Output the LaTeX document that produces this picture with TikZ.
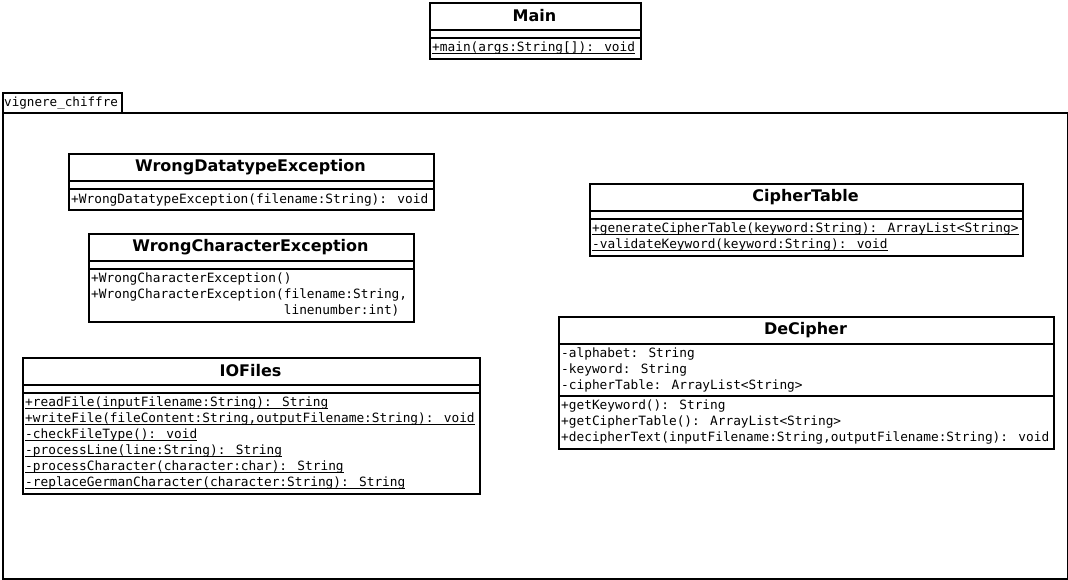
\documentclass[tikz,border=0pt]{standalone}
\usepackage{fontspec}
\newfontfamily\umlsans{DejaVu Sans}
\newfontfamily\umlmono{DejaVu Sans Mono}
\usepackage{tikz}
\usetikzlibrary{positioning}
% static members: rule just under the baseline
\newcommand{\umlstatic}[1]{\setbox0\hbox{#1}\rlap{\rule[-2.2pt]{\wd0}{0.9pt}}\box0}
\tikzset{
  classbox/.style={rectangle,draw,line width=2pt,anchor=north west,inner sep=0pt},
  pkgbox/.style={rectangle,draw,line width=2pt,anchor=north west,inner sep=0pt},
  classname/.style={inner sep=0pt,font=\umlsans\bfseries\fontsize{16}{19}\selectfont},
  members/.style={anchor=base west,align=left,inner sep=0pt,font=\umlmono\fontsize{12.8}{16}\selectfont},
  pkgname/.style={anchor=base west,inner sep=0pt,font=\umlmono\fontsize{12.6}{16}\selectfont},
  divider/.style={line width=2pt}
}

\begin{document}
\begin{tikzpicture}[x=1pt,y=-1pt]
  \useasboundingbox (0,0) rectangle (1068,580);

  % Main
  \node[classbox,minimum width=211pt,minimum height=56pt] (main) at (429,2) {};
  \node[classname] (mainName) at (534.5,16) {Main};
  \draw[divider] ([yshift=-28pt]main.north west) -- ([yshift=-28pt]main.north east);
  \draw[divider] ([yshift=-36pt]main.north west) -- ([yshift=-36pt]main.north east);
  \node[members] (mainOps) at (432,51.5) {\umlstatic{+main(args:String[]): void}};

  % Package (members below are placed by the baseline of their last line)
  \node[pkgbox,minimum width=119pt,minimum height=20pt] (pkgTab) at (2,92) {};
  \node[pkgname] (pkgName) at (4,107) {vignere\_chiffre};
  \node[pkgbox,minimum width=1065pt,minimum height=466pt] (pkg) at (2,112) {};

  % WrongDatatypeException
  \node[classbox,minimum width=365pt,minimum height=56pt] (wde) at (68,153) {};
  \node[classname] (wdeName) at (250.5,167) {WrongDatatypeException};
  \draw[divider] ([yshift=-28pt]wde.north west) -- ([yshift=-28pt]wde.north east);
  \draw[divider] ([yshift=-36pt]wde.north west) -- ([yshift=-36pt]wde.north east);
  \node[members] (wdeOps) at (71,203.5) {+WrongDatatypeException(filename:String): void};

  % WrongCharacterException
  \node[classbox,minimum width=325pt,minimum height=88pt] (wce) at (88,233) {};
  \node[classname] (wceName) at (250.5,247) {WrongCharacterException};
  \draw[divider] ([yshift=-28pt]wce.north west) -- ([yshift=-28pt]wce.north east);
  \draw[divider] ([yshift=-36pt]wce.north west) -- ([yshift=-36pt]wce.north east);
  \node[members] (wceOps) at (91,314.5) {+WrongCharacterException()\\
    +WrongCharacterException(filename:String,\\
    \phantom{+WrongCharacterException(}linenumber:int)};

  % IOFiles
  \node[classbox,minimum width=457pt,minimum height=136pt] (io) at (22,357) {};
  \node[classname] (ioName) at (250.5,371) {IOFiles};
  \draw[divider] ([yshift=-28pt]io.north west) -- ([yshift=-28pt]io.north east);
  \draw[divider] ([yshift=-36pt]io.north west) -- ([yshift=-36pt]io.north east);
  \node[members] (ioOps) at (25,486.5) {\umlstatic{+readFile(inputFilename:String): String}\\
    \umlstatic{+writeFile(fileContent:String,outputFilename:String): void}\\
    \umlstatic{-checkFileType(): void}\\
    \umlstatic{-processLine(line:String): String}\\
    \umlstatic{-processCharacter(character:char): String}\\
    \umlstatic{-replaceGermanCharacter(character:String): String}};

  % CipherTable
  \node[classbox,minimum width=433pt,minimum height=72pt] (ct) at (589,183) {};
  \node[classname] (ctName) at (805.5,197) {CipherTable};
  \draw[divider] ([yshift=-28pt]ct.north west) -- ([yshift=-28pt]ct.north east);
  \draw[divider] ([yshift=-36pt]ct.north west) -- ([yshift=-36pt]ct.north east);
  \node[members] (ctOps) at (592,248.5) {\umlstatic{+generateCipherTable(keyword:String): ArrayList<String>}\\
    \umlstatic{-validateKeyword(keyword:String): void}};

  % DeCipher
  \node[classbox,minimum width=495pt,minimum height=132pt] (dc) at (558,316) {};
  \node[classname] (dcName) at (805.5,330) {DeCipher};
  \draw[divider] ([yshift=-28pt]dc.north west) -- ([yshift=-28pt]dc.north east);
  \draw[divider] ([yshift=-80pt]dc.north west) -- ([yshift=-80pt]dc.north east);
  \node[members] (dcAttrs) at (561,389.5) {-alphabet: String\\
    -keyword: String\\
    -cipherTable: ArrayList<String>};
  \node[members] (dcOps) at (561,441.5) {+getKeyword(): String\\
    +getCipherTable(): ArrayList<String>\\
    +decipherText(inputFilename:String,outputFilename:String): void};
\end{tikzpicture}
\end{document}
